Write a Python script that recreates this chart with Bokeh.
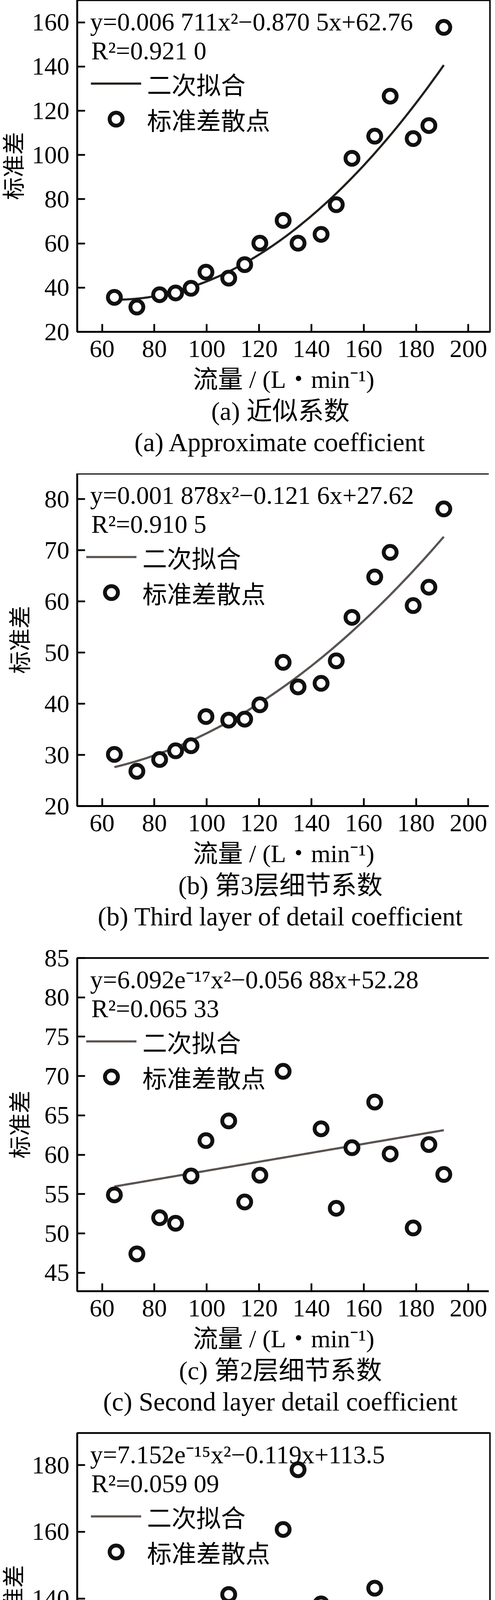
import numpy as np
from bokeh.plotting import figure
from bokeh.models import Range1d, FixedTicker, Label, Legend, LegendItem, Title
from bokeh.layouts import column
from bokeh.embed import file_html
from bokeh.resources import INLINE

FONT = "'Liberation Serif', 'Noto Sans CJK SC', serif"

# ---------------- data ----------------
flow = [64.7, 73.3, 82.0, 88.1, 94.0, 99.7, 108.4, 114.5, 120.3, 129.2,
        134.9, 143.7, 149.5, 155.5, 164.2, 170.1, 178.9, 184.9, 190.6]
std_a = [35.6, 31.2, 36.8, 37.6, 39.7, 47.0, 44.3, 50.4, 60.1, 70.4,
         60.1, 64.1, 77.5, 98.5, 108.5, 126.6, 107.4, 113.3, 157.7]
std_b = [30.1, 26.8, 29.1, 30.8, 31.8, 37.5, 36.8, 37.0, 39.8, 48.1,
         43.3, 44.0, 48.4, 56.9, 64.8, 69.6, 59.2, 62.8, 78.1]
flow_c = [64.7, 73.3, 82.0, 88.1, 94.0, 99.7, 108.4, 114.5, 120.3, 129.2,
          143.7, 149.5, 155.5, 164.2, 170.1, 178.9, 184.9, 190.6]
std_c = [54.9, 47.4, 52.0, 51.3, 57.3, 61.8, 64.3, 54.0, 57.4, 70.6,
         63.3, 53.2, 60.9, 66.7, 60.1, 50.7, 61.3, 57.5]
std_d = [118.0, 102.0, 112.6, 110.9, 124.1, 131.7, 141.2, 118.3, 124.4, 160.7,
         178.6, 138.4, 116.9, 129.0, 143.1, 128.4, 108.1, 131.8, 124.9]

# quadratic fit coefficients (a2, a1, a0) as drawn
fit_a = [0.006711, -0.8705, 62.76]
fit_b = [0.001878, -0.1216, 27.62]
fit_c = [6.092e-17, 0.05688, 52.28]
fit_d = [7.152e-15, 0.119, 113.5]

x_ticks = [60, 80, 100, 120, 140, 160, 180, 200]
y_ticks_a = [20, 40, 60, 80, 100, 120, 140, 160]
y_ticks_b = [20, 30, 40, 50, 60, 70, 80]
y_ticks_c = [45, 50, 55, 60, 65, 70, 75, 80, 85]
y_ticks_d = [100, 120, 140, 160, 180]

eq_a = ["y=0.006 711x²−0.870 5x+62.76", "R²=0.921 0"]
eq_b = ["y=0.001 878x²−0.121 6x+27.62", "R²=0.910 5"]
eq_c = ["y=6.092e⁻¹⁷x²−0.056 88x+52.28", "R²=0.065 33"]
eq_d = ["y=7.152e⁻¹⁵x²−0.119x+113.5", "R²=0.059 09"]

cap_a = ["(a)  近似系数", "(a)  Approximate coefficient"]
cap_b = ["(b)  第3层细节系数", "(b)  Third layer of detail coefficient"]
cap_c = ["(c)  第2层细节系数", "(c)  Second layer detail coefficient"]
cap_d = ["(d)  第1层细节系数", "(d)  First layer of detail coefficient"]

x_label = "流量 / (L・min⁻¹)"
y_label = "标准差"
legend_labels = ["二次拟合", "标准差散点"]

FW = 1056


def text_label(x, y, text, size):
    return Label(x=x, y=y, x_units="screen", y_units="screen", text=text,
                 text_font=FONT, text_font_size=size, text_baseline="middle",
                 text_align="left", text_color="black")


def panel(xs, ys, coef, yr, yticks, eq, cap, fh, bt, bb, lc, ylab_standoff):
    p = figure(title=None, frame_width=FW, frame_height=fh,
               min_border_left=192, min_border_right=2,
               min_border_top=bt, min_border_bottom=bb,
               x_range=Range1d(50.5, 208.3), y_range=Range1d(*yr),
               output_backend="svg", toolbar_location=None)
    p.grid.visible = False
    p.outline_line_color = "black"
    p.outline_line_width = 4.5
    p.outline_line_alpha = 1.0
    p.background_fill_color = "white"
    p.border_fill_color = "white"

    p.xaxis.ticker = FixedTicker(ticks=x_ticks)
    p.yaxis.ticker = FixedTicker(ticks=yticks)
    for ax in (p.xaxis[0], p.yaxis[0]):
        ax.axis_line_color = "black"
        ax.axis_line_width = 4.5
        ax.major_tick_line_color = "black"
        ax.major_tick_line_width = 4.5
        ax.major_tick_in = 20
        ax.major_tick_out = 0
        ax.minor_tick_line_color = None
        ax.major_label_text_font = FONT
        ax.major_label_text_font_size = "64px"
        ax.major_label_text_color = "black"
        ax.axis_label_text_font = FONT
        ax.axis_label_text_font_style = "normal"
        ax.axis_label_text_color = "black"
    p.xaxis.axis_label = x_label
    p.xaxis.axis_label_text_font_size = "64px"
    p.xaxis.major_label_standoff = 22
    p.xaxis.axis_label_standoff = 19
    p.yaxis.axis_label = y_label
    p.yaxis.axis_label_text_font_size = "58px"
    p.yaxis.major_label_standoff = 20
    p.yaxis.axis_label_standoff = ylab_standoff

    fx = np.linspace(min(xs), max(xs), 80)
    fy = coef[0] * fx ** 2 + coef[1] * fx + coef[2]
    r_line = p.line(fx, fy, line_color=lc, line_width=5.5)
    r_sc = p.scatter(xs, ys, marker="circle", size=33, fill_color="white",
                     line_color="#111111", line_width=10)

    # equation text inside the frame
    p.add_layout(text_label(33, fh - 55, eq[0], "65px"))
    p.add_layout(text_label(36, fh - 129, eq[1], "65px"))

    leg = Legend(items=[LegendItem(label=legend_labels[0], renderers=[r_line]),
                        LegendItem(label=legend_labels[1], renderers=[r_sc])],
                 location=(35, fh - 172 - 178),
                 padding=0, spacing=0, margin=0,
                 glyph_width=129, glyph_height=83, label_height=89,
                 label_standoff=15, label_text_font=FONT,
                 label_text_font_size="63px", label_text_color="black",
                 border_line_color=None, background_fill_alpha=0)
    p.add_layout(leg)

    p.add_layout(Title(text=cap[0], align="center", text_font=FONT,
                       text_font_size="66px", text_font_style="normal",
                       text_color="black", standoff=8), "below")
    p.add_layout(Title(text=cap[1], align="center", text_font=FONT,
                       text_font_size="67px", text_font_style="normal",
                       text_color="black", standoff=0), "below")
    return p


pa = panel(flow, std_a, fit_a, (20, 170), y_ticks_a, eq_a, cap_a, 849, 0, 363, "#231f1c", 10)
pb = panel(flow, std_b, fit_b, (20, 85), y_ticks_b, eq_b, cap_b, 851, 0, 353, "#5a5350", 26)
pc = panel(flow_c, std_c, fit_c, (42.66, 85), y_ticks_c, eq_c, cap_c, 853, 36, 361, "#5a5350", 26)
pd = panel(flow, std_d, fit_d, (90.1, 189.6), y_ticks_d, eq_d, cap_d, 850, 2, 317, "#5a5350", 10)

layout = column(pa, pb, pc, pd, spacing=0)
open("out.html", "w").write(file_html(layout, INLINE))
